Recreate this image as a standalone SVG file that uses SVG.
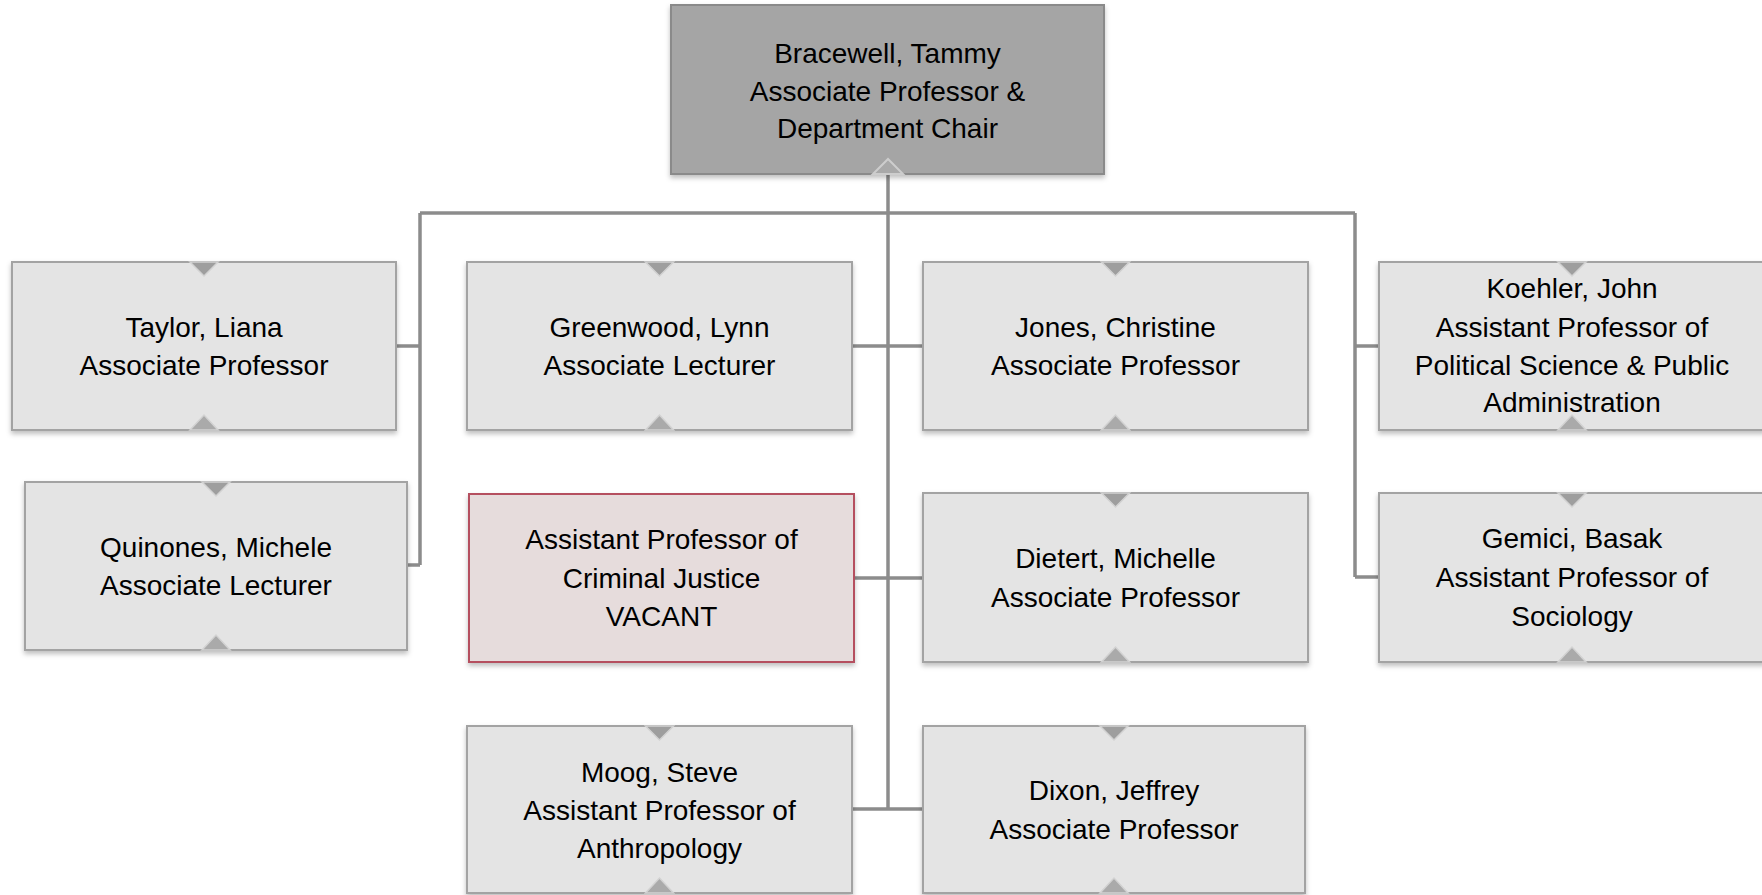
<svg xmlns="http://www.w3.org/2000/svg" width="1762" height="895" viewBox="0 0 1762 895">
<defs>
<filter id="sh" x="-5%" y="-10%" width="110%" height="125%">
<feDropShadow dx="0" dy="3" stdDeviation="2.5" flood-color="#000" flood-opacity="0.25"/>
</filter>
<style>
.box{fill:#e4e4e4;stroke:#a3a3a3;stroke-width:2;filter:url(#sh)}
.top{fill:#a5a5a5;stroke:#8a8a8a;stroke-width:2;filter:url(#sh)}
.vac{fill:#e6dcdc;stroke:#b5505e;stroke-width:2;filter:url(#sh)}
.nt{fill:#9e9e9e;stroke:#d2d2d2;stroke-width:1.5}
.nb{fill:#aaaaaa;stroke:#d2d2d2;stroke-width:1.5}
.ntop{fill:#a9a9a9;stroke:#cdcdcd;stroke-width:2}
text{font-family:"Liberation Sans",Arial,sans-serif;font-size:28px;fill:#000;text-anchor:middle}
.con{fill:none;stroke:#8c8c8c;stroke-width:3.5}
</style>
</defs>
<g id="connectors">
<path class="con" d="M888 174V809"/>
<path class="con" d="M420 213H1355"/>
<path class="con" d="M420 213V565M396 346H420M407 565H420"/>
<path class="con" d="M1355 213V577M1355 346H1379M1355 577H1379"/>
<path class="con" d="M852 346H923M854 578H923M852 809H923"/>
</g>
<g id="bracewell">
<rect class="top" x="671" y="5" width="433" height="169"/>
<polygon class="ntop" points="873,174 888,159 903,174"/>
<text x="887.5" y="63">Bracewell, Tammy</text>
<text x="887.5" y="101">Associate Professor &amp;</text>
<text x="887.5" y="138">Department Chair</text>
</g>
<g id="taylor">
<rect class="box" x="12" y="262" width="384" height="168"/>
<polygon class="nt" points="190,262 204,276 218,262"/>
<polygon class="nb" points="190,430 204,415 218,430"/>
<text x="204" y="337">Taylor, Liana</text>
<text x="204" y="375">Associate Professor</text>
</g>
<g id="quinones">
<rect class="box" x="25" y="482" width="382" height="168"/>
<polygon class="nt" points="202,482 216,496 230,482"/>
<polygon class="nb" points="202,650 216,635 230,650"/>
<text x="216" y="557">Quinones, Michele</text>
<text x="216" y="595">Associate Lecturer</text>
</g>
<g id="greenwood">
<rect class="box" x="467" y="262" width="385" height="168"/>
<polygon class="nt" points="645.5,262 659.5,276 673.5,262"/>
<polygon class="nb" points="645.5,430 659.5,415 673.5,430"/>
<text x="659.5" y="337">Greenwood, Lynn</text>
<text x="659.5" y="375">Associate Lecturer</text>
</g>
<g id="vacant">
<rect class="vac" x="469" y="494" width="385" height="168"/>
<text x="661.5" y="549">Assistant Professor of</text>
<text x="661.5" y="588">Criminal Justice</text>
<text x="661.5" y="626">VACANT</text>
</g>
<g id="moog">
<rect class="box" x="467" y="726" width="385" height="167"/>
<polygon class="nt" points="645.5,726 659.5,740 673.5,726"/>
<polygon class="nb" points="645.5,893 659.5,878 673.5,893"/>
<text x="659.5" y="782">Moog, Steve</text>
<text x="659.5" y="820">Assistant Professor of</text>
<text x="659.5" y="858">Anthropology</text>
</g>
<g id="jones">
<rect class="box" x="923" y="262" width="385" height="168"/>
<polygon class="nt" points="1101.5,262 1115.5,276 1129.5,262"/>
<polygon class="nb" points="1101.5,430 1115.5,415 1129.5,430"/>
<text x="1115.5" y="337">Jones, Christine</text>
<text x="1115.5" y="375">Associate Professor</text>
</g>
<g id="dietert">
<rect class="box" x="923" y="493" width="385" height="169"/>
<polygon class="nt" points="1101.5,493 1115.5,507 1129.5,493"/>
<polygon class="nb" points="1101.5,662 1115.5,647 1129.5,662"/>
<text x="1115.5" y="568">Dietert, Michelle</text>
<text x="1115.5" y="607">Associate Professor</text>
</g>
<g id="dixon">
<rect class="box" x="923" y="726" width="382" height="167"/>
<polygon class="nt" points="1100,726 1114,740 1128,726"/>
<polygon class="nb" points="1100,893 1114,878 1128,893"/>
<text x="1114" y="800">Dixon, Jeffrey</text>
<text x="1114" y="839">Associate Professor</text>
</g>
<g id="koehler">
<rect class="box" x="1379" y="262" width="386" height="168"/>
<polygon class="nt" points="1558,262 1572,276 1586,262"/>
<polygon class="nb" points="1558,430 1572,415 1586,430"/>
<text x="1572" y="298">Koehler, John</text>
<text x="1572" y="337">Assistant Professor of</text>
<text x="1572" y="375">Political Science &amp; Public</text>
<text x="1572" y="412">Administration</text>
</g>
<g id="gemici">
<rect class="box" x="1379" y="493" width="386" height="169"/>
<polygon class="nt" points="1558,493 1572,507 1586,493"/>
<polygon class="nb" points="1558,662 1572,647 1586,662"/>
<text x="1572" y="548">Gemici, Basak</text>
<text x="1572" y="587">Assistant Professor of</text>
<text x="1572" y="626">Sociology</text>
</g>
</svg>
